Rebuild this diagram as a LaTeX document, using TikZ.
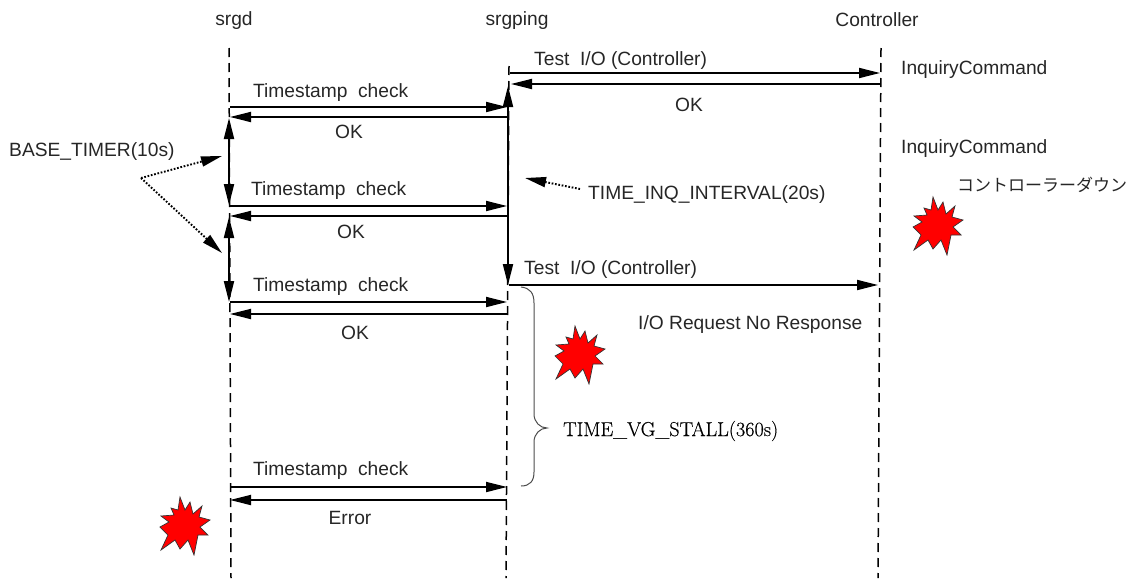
\documentclass[tikz,border=0pt]{standalone}
\usepackage{fontspec}
\setmainfont{Liberation Sans}
\newfontfamily\lmserif[FakeBold=0.35]{Latin Modern Roman}
\newfontfamily\cjkfont{Noto Sans CJK JP}
\usetikzlibrary{arrows.meta}
\tikzset{
  x=1pt,y=-1pt,
  lbl/.style={inner sep=0pt,anchor=west,yshift=-2pt,font=\fontsize{19.2}{21}\selectfont,text=black!85},
  ctr/.style={inner sep=0pt,font=\fontsize{19.2}{21}\selectfont,text=black!85},
  life/.style={line width=1.5pt,dash pattern=on 9pt off 6pt},
  msg/.style={line width=1.8pt,-{Triangle[length=21pt,width=10pt]}},
  span/.style={line width=2pt,{Triangle[length=21pt,width=10pt]}-{Triangle[length=21pt,width=10pt]}},
  note/.style={line width=1.9pt,dash pattern=on 1.7pt off 1.7pt,-{Triangle[length=21pt,width=10pt]}},
  bracecurve/.style={line width=1pt,draw=black!70},
  burst/.pic={
    \path[fill=red,draw=black!80,line width=0.7pt]
      (-4,-30)--(1,-17)--(6,-25)--(9,-13)--(18,-21)--(15,-10)--(26,-7)--(16,0)--(24,8)--(14,8)--(10,28)
      --(4,13)--(-4,22)--(-9,13)--(-23,23)--(-16,8)--(-24,0)--(-15,-5)--(-23,-11)--(-10,-12)--(-13,-19)--(-6,-17)--cycle;
  }
}
\begin{document}
\begin{tikzpicture}
\useasboundingbox (0,0) rectangle (1137,581);
% lifelines
\coordinate (dT) at (229,48); \coordinate (dB) at (231,578);
\coordinate (pT) at (509,66); \coordinate (pB) at (506,578);
\coordinate (cT) at (881,48); \coordinate (cB) at (878,578);
\draw[life] (dT) -- (dB);
\draw[life] (pT) -- (pB);
\draw[life] (cT) -- (cB);
% headers
\node[ctr] (hd) at (234,21) {srgd};
\node[ctr] (hp) at (517,21) {srgping};
\node[ctr] (hc) at (877,20) {Controller};
% message end points
\foreach \n/\y/\xa/\xb in {t1/107/230/507,o1/117/507/230,t2/206/230/507,o2/216/507/230,t3/302/230/507,o3/314/507/230,t4/487/230/507,e4/500/507/230}{
  \coordinate (\n a) at (\xa,\y); \coordinate (\n b) at (\xb,\y);
  \draw[msg] (\n a) -- (\n b);
}
\coordinate (ti1a) at (510,73); \coordinate (ti1b) at (880,73);
\coordinate (ok1a) at (881,84); \coordinate (ok1b) at (511,84);
\coordinate (ti2a) at (509,285); \coordinate (ti2b) at (878,285);
\draw[msg] (ti1a) -- (ti1b);
\draw[msg] (ok1a) -- (ok1b);
\draw[msg] (ti2a) -- (ti2b);
% intervals
\coordinate (s1a) at (229,118); \coordinate (s1b) at (229,205);
\coordinate (s2a) at (229,217); \coordinate (s2b) at (229,302);
\coordinate (s3a) at (508,86); \coordinate (s3b) at (508,285);
\draw[span] (s1a) -- (s1b);
\draw[span] (s2a) -- (s2b);
\draw[span] (s3a) -- (s3b);
% pointers
\coordinate (bt) at (141,178);
\coordinate (bt1) at (222,156);
\coordinate (bt2) at (222,253);
\coordinate (ti) at (580,189);
\coordinate (ti1) at (525,178);
\draw[note] (bt) -- (bt1);
\draw[note] (bt) -- (bt2);
\draw[note] (ti) -- (ti1);
% brace
\coordinate (brA) at (521,287);
\coordinate (brT) at (547,428);
\coordinate (brB) at (521,486);
\draw[bracecurve] (brA) .. controls (530,288) and (534,293) .. (534,303)
  -- (534,414) .. controls (534,422) and (540,428) .. (brT)
  .. controls (540,428) and (534,434) .. (534,442)
  -- (534,472) .. controls (534,481) and (530,486) .. (brB);
% labels
\node[lbl] (l1) at (253,91) {Timestamp\ \ check};
\node[lbl] (l2) at (251,189) {Timestamp\ \ check};
\node[lbl] (l3) at (253,285) {Timestamp\ \ check};
\node[lbl] (l4) at (253,469) {Timestamp\ \ check};
\node[ctr] (k1) at (349,132) {OK};
\node[ctr] (k2) at (351,232) {OK};
\node[ctr] (k3) at (355,333) {OK};
\node[ctr] (k4) at (689,105) {OK};
\node[ctr] (er) at (350,518) {Error};
\node[lbl] (tio1) at (534,59) {Test\ \ I/O (Controller)};
\node[lbl] (tio2) at (524,268) {Test\ \ I/O (Controller)};
\node[lbl] (iq1) at (901,68) {InquiryCommand};
\node[lbl] (iq2) at (901,147) {InquiryCommand};
\node[lbl] (base) at (9,150) {BASE\_TIMER(10s)};
\node[lbl] (inq) at (588,193) {TIME\_INQ\_INTERVAL(20s)};
\node[lbl] (noresp) at (638,323) {I/O Request No Response};
\node[lbl,font=\lmserif\fontsize{20.2}{22}\selectfont,text=black] (stall) at (563,429) {TIME\_VG\_STALL(360s)};
\node[lbl,font=\cjkfont\fontsize{17}{20}\selectfont] (down) at (957,183) {コントローラーダウン};
% bursts
\pic at (937,227) {burst};
\pic at (579,356) {burst};
\pic at (184,527) {burst};
\end{tikzpicture}
\end{document}
